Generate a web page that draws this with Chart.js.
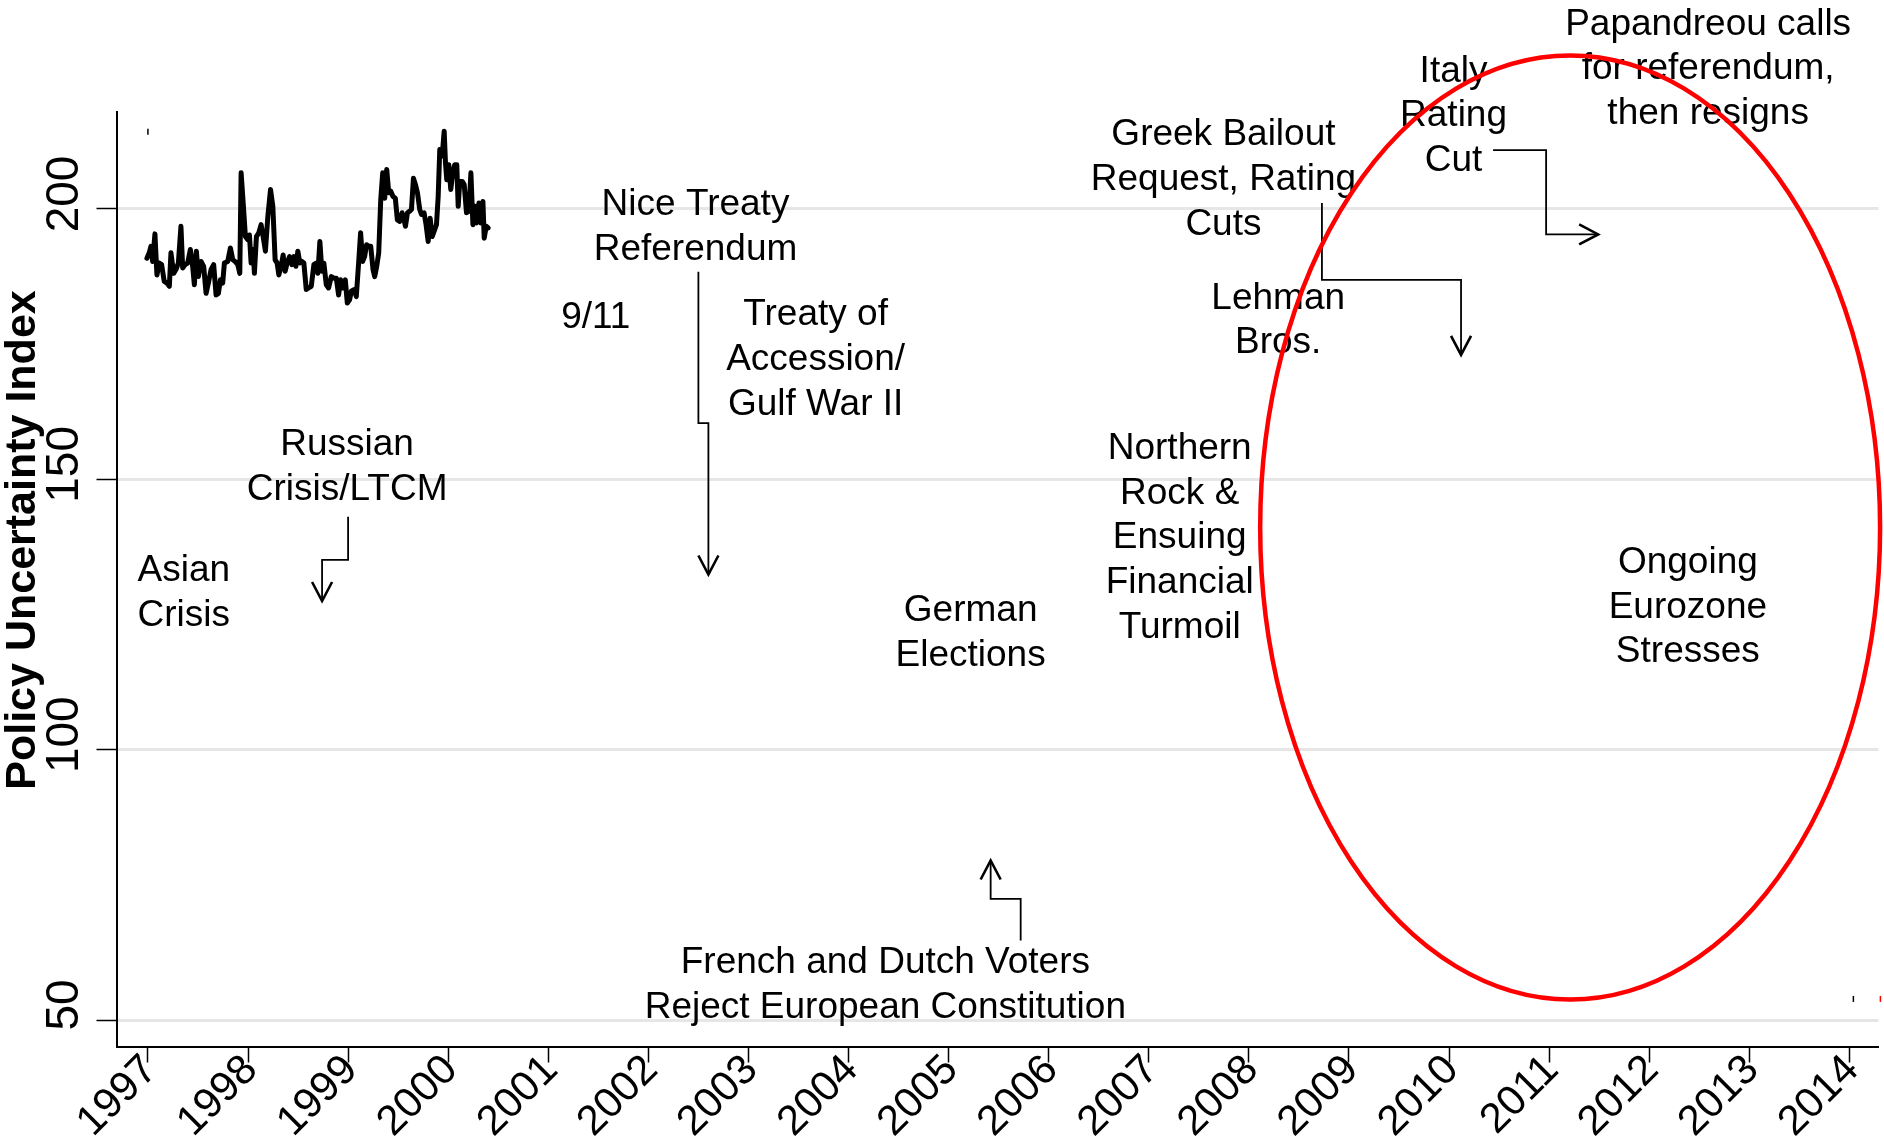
<!DOCTYPE html>
<html lang="en">
<head>
<meta charset="UTF-8">
<title>Policy Uncertainty Index</title>
<script src="https://cdn.jsdelivr.net/npm/chart.js"></script>
<style>
  html, body { margin: 0; padding: 0; background: #fff; }
  canvas { display: block; }
</style>
</head>
<body>
<canvas id="myChart" width="1884" height="1139"></canvas>
<script>
// x tick labels and y ticks
const years = [1997, 1998, 1999, 2000, 2001, 2002, 2003, 2004, 2005, 2006, 2007, 2008, 2009, 2010, 2011, 2012, 2013, 2014];
const yTicks = [50, 100, 150, 200];

// series (decimal year, index value)
const dates = [
  1996.990, 1997.013, 1997.030, 1997.047, 1997.070, 1997.090, 1997.113, 1997.137, 1997.163, 1997.190,
  1997.214, 1997.230, 1997.257, 1997.280, 1997.304, 1997.330, 1997.347, 1997.370, 1997.397, 1997.424,
  1997.447, 1997.464, 1997.484, 1997.504, 1997.531, 1997.557, 1997.581, 1997.604, 1997.631, 1997.657,
  1997.681, 1997.704, 1997.724, 1997.747, 1997.764, 1997.797, 1997.824, 1997.848, 1997.871, 1997.898,
  1997.918, 1997.931, 1997.954, 1997.974, 1997.998, 1998.014, 1998.031, 1998.051, 1998.064, 1998.084,
  1998.108, 1998.131, 1998.151, 1998.174, 1998.198, 1998.225, 1998.248, 1998.271, 1998.291, 1998.308,
  1998.331, 1998.351, 1998.371, 1998.391, 1998.415, 1998.438, 1998.458, 1998.478, 1998.498, 1998.518,
  1998.538, 1998.558, 1998.582, 1998.605, 1998.632, 1998.658, 1998.682, 1998.698, 1998.718, 1998.738,
  1998.758, 1998.782, 1998.805, 1998.832, 1998.859, 1998.882, 1998.905, 1998.925, 1998.949, 1998.972,
  1998.992, 1999.015, 1999.032, 1999.059, 1999.082, 1999.105, 1999.125, 1999.145, 1999.165, 1999.185,
  1999.206, 1999.226, 1999.249, 1999.266, 1999.286, 1999.306, 1999.326, 1999.346, 1999.366, 1999.386,
  1999.406, 1999.426, 1999.449, 1999.472, 1999.492, 1999.516, 1999.539, 1999.559, 1999.573, 1999.593,
  1999.616, 1999.633, 1999.653, 1999.673, 1999.693, 1999.716, 1999.733, 1999.759, 1999.779, 1999.800,
  1999.820, 1999.840, 1999.860, 1999.883, 1999.900, 1999.916, 1999.940, 1999.960, 1999.973, 1999.986,
  2000.006, 2000.026, 2000.046, 2000.066, 2000.086, 2000.100, 2000.116, 2000.140, 2000.160, 2000.183,
  2000.207, 2000.227, 2000.247, 2000.267, 2000.283, 2000.307, 2000.327, 2000.347, 2000.360, 2000.380,
  2000.400
];
const policyIndex = [
  190.9, 191.9, 193.1, 190.3, 195.4, 187.8, 190.0, 189.7, 186.6, 186.3,
  185.7, 191.9, 188.1, 188.8, 190.0, 196.8, 189.1, 189.7, 190.0, 192.5,
  189.4, 186.0, 192.2, 187.5, 190.3, 189.4, 184.4, 186.3, 188.8, 189.7,
  184.1, 184.4, 186.9, 186.3, 190.0, 190.3, 192.8, 190.6, 190.3, 189.7,
  188.1, 206.7, 200.5, 194.9, 194.3, 195.2, 190.0, 192.5, 188.1, 194.9,
  195.6, 197.1, 194.9, 192.2, 198.6, 203.6, 200.5, 190.6, 190.0, 187.8,
  189.4, 191.5, 188.5, 190.0, 191.2, 189.7, 191.2, 189.4, 192.2, 190.0,
  190.3, 190.0, 185.1, 185.4, 185.7, 189.7, 190.0, 188.1, 194.0, 188.5,
  190.0, 186.0, 185.4, 187.5, 187.2, 187.2, 184.1, 186.9, 185.4, 186.9,
  182.6, 183.2, 184.8, 185.1, 183.8, 190.0, 195.6, 190.3, 191.2, 193.4,
  193.1, 193.1, 188.8, 187.5, 189.4, 191.9, 201.7, 206.7, 202.0, 207.3,
  203.0, 203.3, 202.3, 202.0, 198.0, 197.7, 199.3, 198.0, 196.8, 199.3,
  199.6, 199.9, 205.7, 204.5, 203.0, 199.9, 199.0, 199.3, 197.1, 194.0,
  198.3, 194.9, 195.9, 197.1, 202.3, 211.0, 209.8, 214.4, 208.5, 205.4,
  208.2, 203.6, 206.7, 208.2, 208.2, 200.5, 205.1, 205.1, 204.5, 199.3,
  199.6, 206.7, 197.1, 200.5, 197.4, 201.1, 197.4, 201.4, 194.6, 196.8,
  196.5
];

// tiny stray marks visible in the original
const strayX = [1997.0, 2014.04, 2008.12, 2014.31];
const strayY = [214.3, 53.9, 228.2, 53.9];
const strayColors = ['#000', '#000', '#ff0000', '#ff0000'];

// event labels, placed in data units (centre of first line)
const notes = [
  { x: 1997.358, y: 133.6, lines: ['Asian', 'Crisis'] },
  { x: 1998.990, y: 156.9, lines: ['Russian', 'Crisis/LTCM'] },
  { x: 2001.475, y: 180.4, lines: ['9/11'] },
  { x: 2002.471, y: 201.3, lines: ['Nice Treaty', 'Referendum'] },
  { x: 2003.671, y: 180.9, lines: ['Treaty of', 'Accession/', 'Gulf War II'] },
  { x: 2005.220, y: 126.2, lines: ['German', 'Elections'] },
  { x: 2004.368, y: 61.1, lines: ['French and Dutch Voters', 'Reject European Constitution'] },
  { x: 2007.309, y: 156.2, lines: ['Northern', 'Rock &', 'Ensuing', 'Financial', 'Turmoil'] },
  { x: 2007.746, y: 214.2, lines: ['Greek Bailout', 'Request, Rating', 'Cuts'] },
  { x: 2008.293, y: 184.0, lines: ['Lehman', 'Bros.'] },
  { x: 2010.045, y: 226.0, lines: ['Italy', 'Rating', 'Cut'] },
  { x: 2012.589, y: 234.7, lines: ['Papandreou calls', 'for referendum,', 'then resigns'] },
  { x: 2012.386, y: 135.1, lines: ['Ongoing', 'Eurozone', 'Stresses'] }
];

// elbow arrows, each a list of [year, value] corners; head at the last one
const arrows = [
  [[1999.00, 143.1], [1999.00, 135.1], [1998.74, 135.1], [1998.74, 127.5]],
  [[2002.50, 188.4], [2002.50, 160.4], [2002.60, 160.4], [2002.60, 132.4]],
  [[2005.72, 64.7], [2005.72, 72.4], [2005.42, 72.4], [2005.42, 79.5]],
  [[2008.73, 201.1], [2008.73, 186.9], [2010.12, 186.9], [2010.12, 173.0]],
  [[2010.44, 210.9], [2010.97, 210.9], [2010.97, 195.3], [2011.49, 195.3]]
];

// red ring around the euro crisis period
const ring = { x: 2011.21, y: 141.1, rx: 3.097, ry: 87.3 };

const FONT = '"Liberation Sans", Arial, sans-serif';

const notesPlugin = {
  id: 'notes',
  afterDatasetsDraw(chart) {
    const { ctx, scales: { x, y } } = chart;
    ctx.save();
    ctx.fillStyle = '#000';
    ctx.font = '37px ' + FONT;
    ctx.textAlign = 'center';
    ctx.textBaseline = 'middle';
    notes.forEach(n => {
      const px = x.getPixelForValue(n.x);
      const py = y.getPixelForValue(n.y) + 3;
      n.lines.forEach((t, i) => ctx.fillText(t, px, py + i * 44.7));
    });

    ctx.strokeStyle = '#000';
    arrows.forEach(a => {
      const pts = a.map(p => [x.getPixelForValue(p[0]), y.getPixelForValue(p[1])]);
      ctx.lineWidth = 1.8;
      ctx.beginPath();
      pts.forEach((p, i) => i ? ctx.lineTo(p[0], p[1]) : ctx.moveTo(p[0], p[1]));
      ctx.stroke();
      const [x1, y1] = pts[pts.length - 2];
      const [x2, y2] = pts[pts.length - 1];
      const ang = Math.atan2(y2 - y1, x2 - x1);
      const c = Math.cos(ang), s = Math.sin(ang);
      ctx.lineWidth = 2.6;
      ctx.beginPath();
      ctx.moveTo(x2 - 19 * c + 10 * s, y2 - 19 * s - 10 * c);
      ctx.lineTo(x2, y2);
      ctx.lineTo(x2 - 19 * c - 10 * s, y2 - 19 * s + 10 * c);
      ctx.stroke();
    });

    const cx = x.getPixelForValue(ring.x);
    const cy = y.getPixelForValue(ring.y);
    const rx = x.getPixelForValue(ring.x + ring.rx) - cx;
    const ry = cy - y.getPixelForValue(ring.y + ring.ry);
    ctx.strokeStyle = '#ff0000';
    ctx.lineWidth = 4.5;
    ctx.beginPath();
    ctx.ellipse(cx, cy, rx, ry, 0, 0, Math.PI * 2);
    ctx.stroke();
    ctx.restore();
  },
  afterDraw(chart) {
    const { ctx } = chart;
    ctx.save();
    ctx.translate(23, 540);
    ctx.rotate(-Math.PI / 2);
    ctx.font = 'bold 43px ' + FONT;
    ctx.fillStyle = '#000';
    ctx.textAlign = 'center';
    ctx.textBaseline = 'middle';
    ctx.fillText('Policy Uncertainty Index', 0, 0);
    ctx.restore();
  }
};

const config = {
  type: 'line',
  data: {
    datasets: [{
      data: dates.map((d, i) => ({ x: d, y: policyIndex[i] })),
      borderColor: '#000',
      borderWidth: 5,
      borderJoinStyle: 'round',
      borderCapStyle: 'round',
      pointRadius: 0,
      tension: 0,
      fill: false
    }, {
      data: strayX.map((d, i) => ({ x: d, y: strayY[i] })),
      showLine: false,
      pointStyle: 'line',
      pointRotation: 90,
      pointRadius: 3,
      pointBorderWidth: 1.5,
      pointBorderColor: strayColors,
      pointBackgroundColor: strayColors,
      clip: false
    }]
  },
  options: {
    responsive: false,
    animation: false,
    devicePixelRatio: 1,
    layout: { padding: { top: 112, left: 0, right: 0, bottom: 0 } },
    plugins: {
      legend: { display: false },
      tooltip: { enabled: false }
    },
    scales: {
      x: {
        type: 'linear',
        min: 1996.686,
        max: 2014.291,
        afterBuildTicks: s => { s.ticks = years.map(v => ({ value: v })); },
        afterFit: s => { s.height = 92.5; s.paddingLeft = 0; s.paddingRight = 0; },
        ticks: {
          minRotation: 45,
          maxRotation: 45,
          padding: -17,
          labelOffset: 3,
          color: '#000',
          font: { family: FONT, size: 42 },
          callback: v => String(v)
        },
        grid: {
          drawOnChartArea: false,
          drawTicks: true,
          tickLength: 16,
          tickColor: '#000',
          tickWidth: 1.5
        },
        border: { color: '#000', width: 2 }
      },
      y: {
        min: 45.1,
        max: 217.94,
        afterBuildTicks: s => { s.ticks = yTicks.map(v => ({ value: v })); },
        afterFit: s => { s.width = 116.5; s.paddingTop = 0; s.paddingBottom = 0; },
        ticks: {
          minRotation: 90,
          maxRotation: 90,
          crossAlign: 'center',
          padding: -7,
          labelOffset: -15,
          color: '#000',
          font: { family: FONT, size: 46 },
          callback: v => String(v)
        },
        grid: {
          color: '#e6e6e6',
          lineWidth: 3,
          drawTicks: true,
          tickLength: 20,
          tickColor: '#000',
          tickWidth: 1.5
        },
        border: { color: '#000', width: 2 }
      }
    }
  },
  plugins: [notesPlugin]
};

const ctx = document.getElementById('myChart').getContext('2d');
const myChart = new Chart(ctx, config);
</script>
</body>
</html>
